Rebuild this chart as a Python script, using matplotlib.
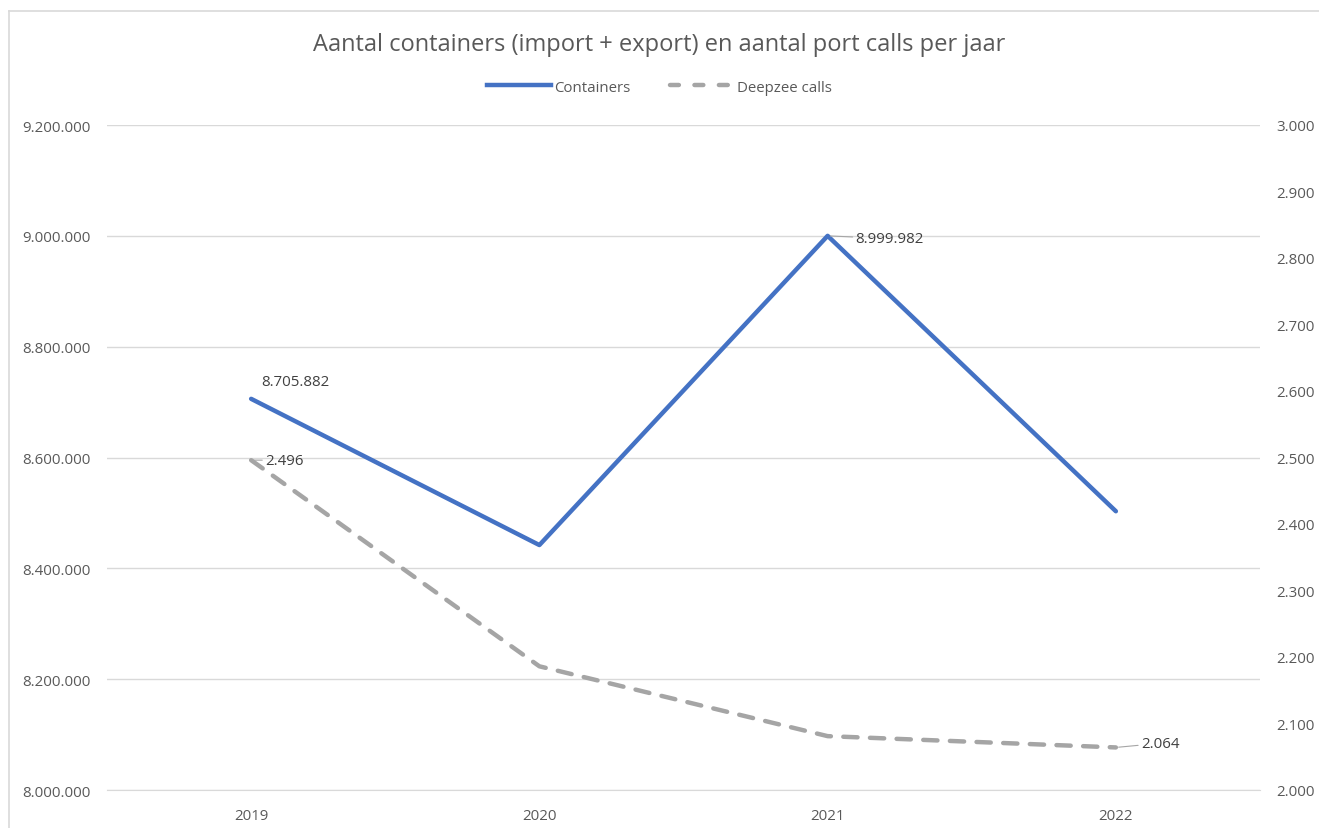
import matplotlib.pyplot as plt
from matplotlib.lines import Line2D
from matplotlib.ticker import FuncFormatter

plt.rcParams['font.family'] = ['Open Sans', 'DejaVu Sans']

years = ["2019", "2020", "2021", "2022"]
containers = [8705882, 8442000, 8999982, 8503000]
deepzee = [2496, 2186, 2081, 2064]

def dots(v, pos=None):
    return f"{int(round(v)):,}".replace(",", ".")

fig = plt.figure(figsize=(13.19, 8.29), dpi=100)
ax = fig.add_axes([107/1319, 1-791/829, (1260-107)/1319, (791-126)/829])
ax2 = ax.twinx()

x = list(range(len(years)))
ax.plot(x, containers, color="#4472C4", lw=3.2, solid_capstyle="round", zorder=3)
ax2.plot(x, deepzee, color="#A5A5A5", lw=3.2, dashes=(3.2, 2.8),
         dash_capstyle="round", zorder=3)

ax.set_xlim(-0.5, 3.5)
ax.set_ylim(8000000, 9200000)
ax.set_yticks(range(8000000, 9200001, 200000))
ax2.set_ylim(2000, 3000)
ax2.set_yticks(range(2000, 3001, 100))
ax.yaxis.set_major_formatter(FuncFormatter(dots))
ax2.yaxis.set_major_formatter(FuncFormatter(dots))
ax.set_xticks(x)
ax.set_xticklabels(years)

fs = 10.8
ax.grid(axis="y", color="#D9D9D9", lw=1)
ax.set_axisbelow(True)
for a in (ax, ax2):
    for s in a.spines.values():
        s.set_visible(False)
    a.tick_params(length=0, labelsize=fs, labelcolor="#595959")
ax.tick_params(axis="y", pad=12)
ax2.tick_params(axis="y", pad=12)
ax.tick_params(axis="x", pad=13)
ax.spines["bottom"].set_visible(True)
ax.spines["bottom"].set_color("#D9D9D9")

# data labels
lc = "#404040"
ax.annotate(dots(containers[0]), (x[0], containers[0]), xytext=(7, 7),
            textcoords="offset points", fontsize=fs, color=lc, va="bottom")
ax.annotate(dots(containers[2]), (x[2], containers[2]), xytext=(20, -2),
            textcoords="offset points", fontsize=fs, color=lc, va="center",
            arrowprops=dict(arrowstyle="-", color="#A6A6A6", lw=0.8,
                            shrinkA=0, shrinkB=2))
ax2.annotate(dots(deepzee[0]), (x[0], deepzee[0]), xytext=(10, 0),
             textcoords="offset points", fontsize=fs, color=lc, va="center",
             arrowprops=dict(arrowstyle="-", color="#A6A6A6", lw=0.8,
                             shrinkA=0, shrinkB=0))
ax2.annotate(dots(deepzee[3]), (x[3], deepzee[3]), xytext=(18, 3),
             textcoords="offset points", fontsize=fs, color=lc, va="center",
             arrowprops=dict(arrowstyle="-", color="#A6A6A6", lw=0.8,
                             shrinkA=0, shrinkB=2))

fig.text(0.5, 1-45/829, "Aantal containers (import + export) en aantal port calls per jaar",
         ha="center", va="center", fontsize=17, color="#595959")

handles = [Line2D([], [], color="#4472C4", lw=3.2),
           Line2D([], [], color="#A5A5A5", lw=3.2, dashes=(2, 3.5), dash_capstyle="round")]
fig.legend(handles, ["Containers", "Deepzee calls"], loc="center",
           bbox_to_anchor=(0.5, 1-88/829), ncol=2, frameon=False, fontsize=fs,
           handlelength=4.3, handletextpad=0.2, columnspacing=2.6,
           labelcolor="#595959")

# chart border
fig.add_artist(Line2D([9/1319, 9/1319], [0, 1-12/829], color="#D9D9D9", lw=1.2))
fig.add_artist(Line2D([9/1319, 1], [1-12/829, 1-12/829], color="#D9D9D9", lw=1.2))

fig.savefig("out.png", dpi=100, facecolor="white")
